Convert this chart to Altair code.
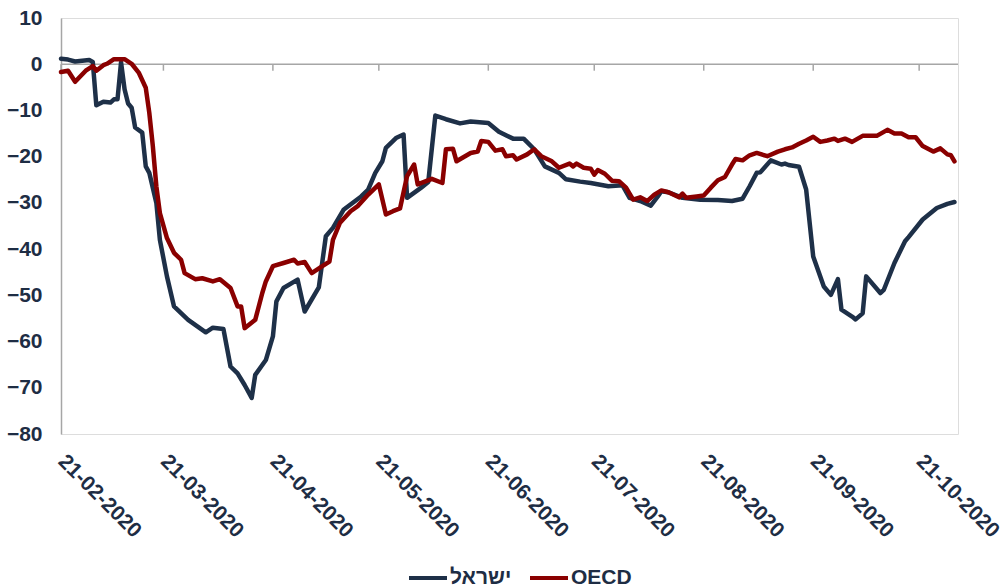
import altair as alt
import pandas as pd

# ---- data ----
israel_dates = [
    "2020-02-21", "2020-02-23", "2020-02-25", "2020-02-29", "2020-03-01", "2020-03-02",
    "2020-03-04", "2020-03-06", "2020-03-07", "2020-03-08", "2020-03-09", "2020-03-10",
    "2020-03-11", "2020-03-12", "2020-03-13", "2020-03-15", "2020-03-16", "2020-03-17",
    "2020-03-19", "2020-03-20", "2020-03-22", "2020-03-24", "2020-03-28", "2020-04-02",
    "2020-04-04", "2020-04-07", "2020-04-09", "2020-04-11", "2020-04-13", "2020-04-15",
    "2020-04-16", "2020-04-19", "2020-04-21", "2020-04-22", "2020-04-24", "2020-04-28",
    "2020-04-30", "2020-05-04", "2020-05-06", "2020-05-08", "2020-05-11", "2020-05-16",
    "2020-05-18", "2020-05-20", "2020-05-22", "2020-05-23", "2020-05-26", "2020-05-28",
    "2020-05-29", "2020-06-02", "2020-06-04", "2020-06-06", "2020-06-09", "2020-06-13",
    "2020-06-16", "2020-06-21", "2020-06-24", "2020-06-28", "2020-07-01", "2020-07-04",
    "2020-07-07", "2020-07-11", "2020-07-13", "2020-07-17", "2020-07-20", "2020-07-25",
    "2020-07-29", "2020-07-31", "2020-08-03", "2020-08-06", "2020-08-08", "2020-08-09",
    "2020-08-11", "2020-08-15", "2020-08-20", "2020-08-25", "2020-08-29", "2020-09-01",
    "2020-09-03", "2020-09-05", "2020-09-06", "2020-09-09", "2020-09-12", "2020-09-13",
    "2020-09-14", "2020-09-17", "2020-09-19", "2020-09-21", "2020-09-24", "2020-09-26",
    "2020-09-28", "2020-09-29", "2020-10-02", "2020-10-03", "2020-10-05", "2020-10-06",
    "2020-10-10", "2020-10-11", "2020-10-14", "2020-10-17", "2020-10-18", "2020-10-22",
    "2020-10-26", "2020-10-29", "2020-10-31",
]
israel_values = [
    1.2, 1.0, 0.6, 0.9, 0.5, -8.9,
    -8.1, -8.3, -7.6, -7.6, 0.4, -5.4,
    -8.5, -9.4, -13.7, -14.8, -22.1, -23.5,
    -30.0, -38.0, -45.9, -52.4, -55.3, -58.0,
    -57.0, -57.3, -65.4, -66.9, -69.4, -72.2,
    -67.2, -64.0, -58.9, -51.3, -48.4, -46.6,
    -53.5, -48.3, -37.2, -35.4, -31.5, -28.6,
    -27.1, -23.5, -21.0, -18.1, -15.9, -15.2,
    -28.9, -26.7, -25.5, -11.1, -11.9, -12.8,
    -12.4, -12.7, -14.6, -16.1, -16.1, -18.4,
    -22.1, -23.5, -24.9, -25.4, -25.7, -26.4,
    -26.2, -28.9, -29.6, -30.6, -28.6, -27.5,
    -27.7, -28.9, -29.3, -29.4, -29.6, -29.1,
    -26.4, -23.5, -23.4, -20.8, -21.7, -21.5,
    -21.8, -22.2, -27.1, -41.6, -48.1, -49.9,
    -46.5, -53.1, -54.6, -55.2, -53.9, -45.9,
    -49.5, -48.8, -43.0, -38.3, -37.4, -33.6,
    -31.1, -30.2, -29.8,
]

oecd_dates = [
    "2020-02-21", "2020-02-23", "2020-02-25", "2020-02-28", "2020-03-01", "2020-03-02",
    "2020-03-04", "2020-03-05", "2020-03-07", "2020-03-10", "2020-03-12", "2020-03-14",
    "2020-03-16", "2020-03-17", "2020-03-18", "2020-03-19", "2020-03-20", "2020-03-22",
    "2020-03-24", "2020-03-26", "2020-03-27", "2020-03-30", "2020-04-01", "2020-04-04",
    "2020-04-06", "2020-04-09", "2020-04-11", "2020-04-12", "2020-04-13", "2020-04-16",
    "2020-04-18", "2020-04-19", "2020-04-21", "2020-04-24", "2020-04-27", "2020-04-28",
    "2020-04-30", "2020-05-02", "2020-05-05", "2020-05-07", "2020-05-08", "2020-05-10",
    "2020-05-13", "2020-05-15", "2020-05-18", "2020-05-21", "2020-05-23", "2020-05-25",
    "2020-05-27", "2020-05-29", "2020-05-31", "2020-06-01", "2020-06-05", "2020-06-08",
    "2020-06-09", "2020-06-11", "2020-06-12", "2020-06-16", "2020-06-18", "2020-06-19",
    "2020-06-21", "2020-06-23", "2020-06-25", "2020-06-26", "2020-06-28", "2020-06-29",
    "2020-07-02", "2020-07-04", "2020-07-06", "2020-07-09", "2020-07-11", "2020-07-14",
    "2020-07-15", "2020-07-16", "2020-07-18", "2020-07-20", "2020-07-21", "2020-07-22",
    "2020-07-24", "2020-07-26", "2020-07-28", "2020-07-30", "2020-08-01", "2020-08-03",
    "2020-08-05", "2020-08-07", "2020-08-09", "2020-08-11", "2020-08-14", "2020-08-15",
    "2020-08-16", "2020-08-19", "2020-08-21", "2020-08-23", "2020-08-25", "2020-08-27",
    "2020-08-29", "2020-08-30", "2020-09-01", "2020-09-03", "2020-09-05", "2020-09-08",
    "2020-09-11", "2020-09-13", "2020-09-15", "2020-09-17", "2020-09-19", "2020-09-21",
    "2020-09-23", "2020-09-25", "2020-09-27", "2020-09-28", "2020-09-30", "2020-10-02",
    "2020-10-05", "2020-10-09", "2020-10-12", "2020-10-14", "2020-10-16", "2020-10-18",
    "2020-10-20", "2020-10-22", "2020-10-25", "2020-10-27", "2020-10-29", "2020-10-30",
    "2020-10-31",
]
oecd_values = [
    -1.7, -1.4, -3.8, -1.4, -0.4, -1.4,
    -0.2, 0.1, 1.1, 1.1, 0.1, -1.8,
    -5.1, -10.5, -17.7, -26.4, -32.2, -37.6,
    -40.8, -42.3, -45.2, -46.5, -46.3, -47.0,
    -46.5, -48.4, -52.4, -52.4, -57.1, -55.3,
    -49.5, -47.0, -43.7, -43.0, -42.3, -43.1,
    -42.8, -45.2, -43.7, -42.7, -38.0, -34.3,
    -31.8, -30.7, -28.2, -26.0, -32.5, -31.8,
    -31.2, -24.2, -21.7, -26.0, -24.8, -25.7,
    -18.4, -18.3, -21.0, -19.2, -18.9, -16.6,
    -16.8, -18.7, -18.4, -19.9, -19.7, -20.6,
    -19.5, -18.4, -19.9, -21.0, -22.4, -21.5,
    -22.1, -21.5, -22.4, -22.6, -23.9, -22.9,
    -23.7, -25.2, -25.3, -26.7, -29.3, -28.8,
    -29.6, -28.2, -27.3, -27.7, -28.8, -28.0,
    -28.9, -28.6, -28.4, -26.7, -25.1, -24.4,
    -21.7, -20.5, -20.8, -19.7, -19.2, -19.9,
    -18.9, -18.4, -18.0, -17.2, -16.5, -15.7,
    -16.8, -16.5, -16.1, -16.6, -16.1, -16.8,
    -15.5, -15.5, -14.2, -15.0, -15.0, -15.8,
    -15.8, -17.7, -18.9, -18.2, -19.5, -19.7,
    -21.0,
]

tick_dates = [
    "2020-02-21", "2020-03-21", "2020-04-21", "2020-05-21", "2020-06-21",
    "2020-07-21", "2020-08-21", "2020-09-21", "2020-10-21",
]
y_ticks = [-80, -70, -60, -50, -40, -30, -20, -10, 0, 10]
series_names = ["ישראל", "OECD"]
series_colors = ["#1e3048", "#8a0000"]

# ---- build tables ----
df = pd.DataFrame({
    "date": [d + "T00:00:00" for d in israel_dates + oecd_dates],
    "value": israel_values + oecd_values,
    "series": [series_names[0]] * len(israel_dates) + [series_names[1]] * len(oecd_dates),
    "order": [0] * len(israel_dates) + [1] * len(oecd_dates),
})
ticks_df = pd.DataFrame({"date": [d + "T00:00:00" for d in tick_dates]})

FONT = "Liberation Sans"
TEXT = "#1e2d44"
GRAY = "#a6a6a6"
FS = 21

x_scale = alt.Scale(domain=[alt.DateTime(year=2020, month=2, date=21),
                            alt.DateTime(year=2020, month=11, date=1)])
y_scale = alt.Scale(domain=[-80, 10], nice=False, zero=False)

x_axis = alt.Axis(
    values=[alt.DateTime(year=2020, month=int(d[5:7]), date=21) for d in tick_dates],
    format="%d-%m-%Y", labelAngle=45, labelAlign="left", labelBaseline="middle",
    labelPadding=24, ticks=False, tickSize=0, domain=False, grid=False, title=None,
    labelFont=FONT, labelFontSize=FS, labelFontWeight="bold", labelColor=TEXT,
    labelOverlap=False, labelFlush=False,
)
y_axis = alt.Axis(
    values=y_ticks, ticks=False, tickSize=0, domain=True, domainColor=GRAY,
    domainWidth=1.5, grid=False, title=None, labelPadding=19,
    labelFont=FONT, labelFontSize=FS, labelFontWeight="bold", labelColor=TEXT,
)

zero_line = alt.Chart(pd.DataFrame({"v": [0]})).mark_rule(
    color=GRAY, strokeWidth=1.5
).encode(y=alt.Y("v:Q", scale=y_scale, axis=y_axis))

tick_marks = alt.Chart(ticks_df).mark_rule(color=GRAY, strokeWidth=1.5).encode(
    x=alt.X("date:T", scale=x_scale, axis=x_axis),
    y=alt.datum(0),
    y2=alt.datum(-1.4),
)

lines = alt.Chart(df).mark_line(strokeWidth=4.5, strokeJoin="round", strokeCap="round").encode(
    x=alt.X("date:T", scale=x_scale, axis=x_axis),
    y=alt.Y("value:Q", scale=y_scale, axis=y_axis),
    color=alt.Color(
        "series:N",
        scale=alt.Scale(domain=series_names, range=series_colors),
        legend=alt.Legend(
            title=None, orient="none", direction="horizontal",
            legendX=346, legendY=539, padding=0,
            symbolType="stroke", symbolSize=1444, symbolStrokeWidth=4,
            labelFont=FONT, labelFontSize=FS, labelFontWeight="bold", labelColor=TEXT,
            labelOffset=1, columnPadding=10,
        ),
    ),
    order=alt.Order("order:Q"),
)

chart = alt.layer(zero_line, tick_marks, lines).properties(
    width=897, height=416,
    autosize=alt.AutoSizeParams(type="none"),
    padding={"left": 61, "top": 18, "right": 50, "bottom": 153},
).configure_view(stroke=None).configure(background="white")

chart.save("out.html", embed_options={"renderer": "svg", "actions": False})
